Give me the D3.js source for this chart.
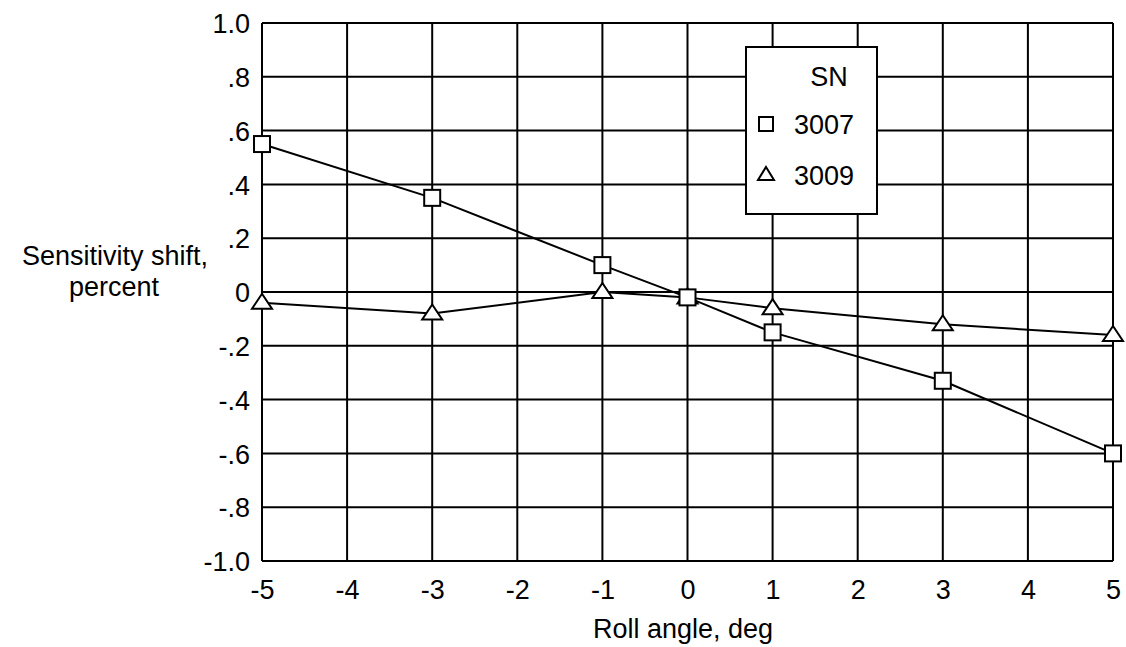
<!DOCTYPE html>
<html><head><meta charset="utf-8">
<script src="https://cdn.jsdelivr.net/npm/d3@7"></script>
<style>
body{margin:0;background:#fff;}
text{font-family:"Liberation Sans",Arial,Helvetica,sans-serif;fill:#000;}
</style></head>
<body>
<svg id="chart" width="1126" height="647"></svg>
<script>
const rollAngles = [-5, -3, -1, 0, 1, 3, 5];
const sn3007 = [0.55, 0.35, 0.10, -0.02, -0.15, -0.33, -0.60];
const sn3009 = [-0.04, -0.08, 0.00, -0.02, -0.06, -0.12, -0.16];
const xTicks = [-5, -4, -3, -2, -1, 0, 1, 2, 3, 4, 5];
const xTickLabels = ["-5", "-4", "-3", "-2", "-1", "0", "1", "2", "3", "4", "5"];
const yTicks = [1.0, 0.8, 0.6, 0.4, 0.2, 0, -0.2, -0.4, -0.6, -0.8, -1.0];
const yTickLabels = ["1.0", ".8", ".6", ".4", ".2", "0", "-.2", "-.4", "-.6", "-.8", "-1.0"];
const legendTitle = "SN";
const seriesNames = ["3007", "3009"];

const FS = 27;
const svg = d3.select("#chart");
const x = d3.scaleLinear().domain([-5, 5]).range([262, 1113]);
const y = d3.scaleLinear().domain([-1, 1]).range([561, 23]);

// grid
const g = svg.append("g");
g.selectAll("line.v").data(xTicks).join("line")
  .attr("x1", d => x(d)).attr("x2", d => x(d))
  .attr("y1", y(1)).attr("y2", y(-1))
  .attr("stroke", "#000").attr("stroke-width", 2);
g.selectAll("line.h").data(yTicks).join("line")
  .attr("y1", d => y(d)).attr("y2", d => y(d))
  .attr("x1", x(-5)).attr("x2", x(5))
  .attr("stroke", "#000").attr("stroke-width", 2);

// axes labels via d3 axes
const xAxis = d3.axisBottom(x).tickValues(xTicks).tickSize(0).tickPadding(0)
  .tickFormat((d, i) => xTickLabels[i]);
const xg = svg.append("g").attr("transform", `translate(0,${y(-1)})`).call(xAxis);
xg.select(".domain").remove();
xg.selectAll("text").attr("dy", null).attr("y", 38).attr("font-size", FS)
  .attr("font-family", "'Liberation Sans', Arial, sans-serif").attr("fill", "#000");

const yAxis = d3.axisLeft(y).tickValues(yTicks).tickSize(0).tickPadding(0)
  .tickFormat((d, i) => yTickLabels[i]);
const yg = svg.append("g").attr("transform", `translate(${x(-5)},0)`).call(yAxis);
yg.select(".domain").remove();
yg.selectAll("text").attr("x", -12).attr("dy", "0.36em").attr("font-size", FS)
  .attr("font-family", "'Liberation Sans', Arial, sans-serif").attr("fill", "#000");

// axis titles
svg.append("text").attr("x", 683).attr("y", 638).attr("text-anchor", "middle")
  .attr("font-size", FS).text("Roll angle, deg");
svg.append("text").attr("x", 115).attr("y", 265).attr("text-anchor", "middle")
  .attr("font-size", FS).text("Sensitivity shift,");
svg.append("text").attr("x", 114).attr("y", 296).attr("text-anchor", "middle")
  .attr("font-size", FS).text("percent");

// lines
const line = d3.line().x((d, i) => x(rollAngles[i])).y(d => y(d));
svg.append("path").datum(sn3007).attr("d", line).attr("fill", "none").attr("stroke", "#000").attr("stroke-width", 2);
svg.append("path").datum(sn3009).attr("d", line).attr("fill", "none").attr("stroke", "#000").attr("stroke-width", 2);

const sq = 16;
const triPath = (cx, cy) => `M${cx},${cy - 9}L${cx + 10},${cy + 6}L${cx - 10},${cy + 6}Z`;

svg.selectAll("path.tri").data(sn3009).join("path").attr("class", "tri")
  .attr("d", (d, i) => triPath(x(rollAngles[i]), y(d)))
  .attr("fill", "#fff").attr("stroke", "#000").attr("stroke-width", 2);
svg.selectAll("rect.sq").data(sn3007).join("rect").attr("class", "sq")
  .attr("x", (d, i) => x(rollAngles[i]) - sq / 2).attr("y", d => y(d) - sq / 2)
  .attr("width", sq).attr("height", sq)
  .attr("fill", "#fff").attr("stroke", "#000").attr("stroke-width", 2);

// legend
const lg = svg.append("g");
lg.append("rect").attr("x", 746).attr("y", 47).attr("width", 131).attr("height", 167)
  .attr("fill", "#fff").attr("stroke", "#000").attr("stroke-width", 2);
lg.append("text").attr("x", 829).attr("y", 86).attr("text-anchor", "middle").attr("font-size", FS).text(legendTitle);
lg.append("rect").attr("x", 759).attr("y", 117).attr("width", 14).attr("height", 14)
  .attr("fill", "#fff").attr("stroke", "#000").attr("stroke-width", 2);
lg.append("path").attr("d", `M766,167L774,180L758,180Z`)
  .attr("fill", "#fff").attr("stroke", "#000").attr("stroke-width", 2);
lg.append("text").attr("x", 794).attr("y", 134).attr("font-size", FS).text(seriesNames[0]);
lg.append("text").attr("x", 794).attr("y", 185).attr("font-size", FS).text(seriesNames[1]);
</script>
</body></html>
